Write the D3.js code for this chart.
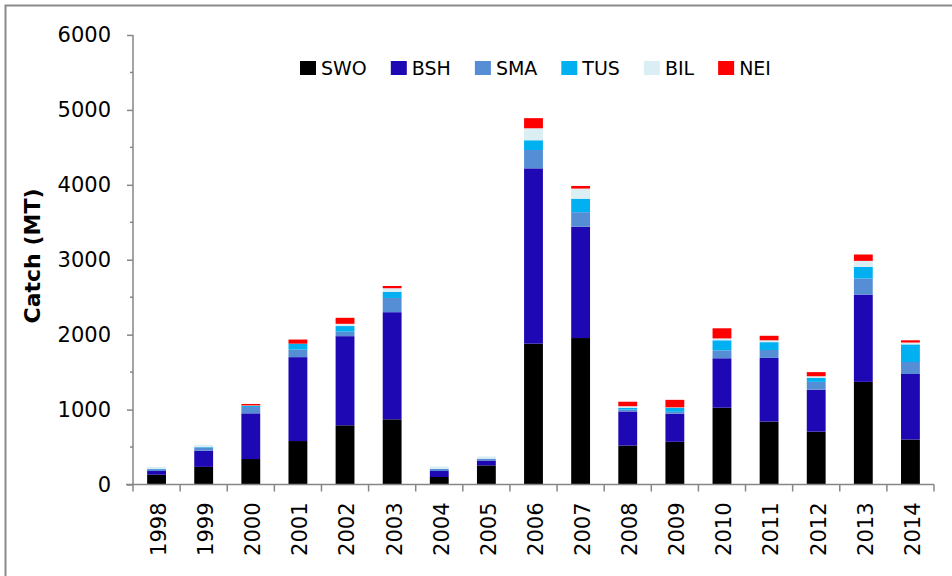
<!DOCTYPE html>
<html>
<head>
<meta charset="utf-8">
<script src="https://cdn.jsdelivr.net/npm/d3@7"></script>
<style>
  body { margin: 0; background: #fff; }
  text { font-family: "DejaVu Sans", sans-serif; fill: #000; }
</style>
</head>
<body>
<svg id="chart" width="952" height="576"></svg>
<script>
// Categories and series (catch in MT)
var years = ["1998","1999","2000","2001","2002","2003","2004","2005","2006","2007","2008","2009","2010","2011","2012","2013","2014"];
var species = ["SWO","BSH","SMA","TUS","BIL","NEI"];
var SWO = [130, 235, 340, 580, 790, 870, 100, 255, 1880, 1955, 520, 570, 1025, 840, 705, 1370, 600];
var BSH = [50, 215, 610, 1120, 1190, 1430, 80, 65, 2340, 1485, 455, 375, 660, 850, 560, 1165, 875];
var SMA = [25, 45, 85, 100, 60, 190, 30, 25, 245, 195, 25, 25, 105, 105, 105, 215, 160];
var TUS = [5, 5, 15, 80, 75, 80, 0, 0, 130, 180, 25, 55, 135, 105, 55, 155, 235];
var BIL = [25, 30, 5, 0, 30, 50, 30, 30, 160, 135, 20, 5, 25, 25, 20, 80, 25];
var NEI = [0, 0, 20, 55, 80, 30, 0, 0, 135, 35, 60, 100, 135, 60, 55, 85, 30];
var yTicks = [0, 1000, 2000, 3000, 4000, 5000, 6000];

var colors = {SWO: "#000000", BSH: "#1e08b4", SMA: "#558ed5", TUS: "#00b0f0", BIL: "#dbeef4", NEI: "#ff0000"};
var series = {SWO: SWO, BSH: BSH, SMA: SMA, TUS: TUS, BIL: BIL, NEI: NEI};

var svg = d3.select("#chart");
var axisColor = "#868686";

// outer frame (only top and left edges show in the picture)
svg.append("rect")
  .attr("x", 5.5).attr("y", 5.5)
  .attr("width", 960).attr("height", 600)
  .attr("fill", "none")
  .attr("stroke", "#8a8a8a")
  .attr("stroke-width", 2);

var plotLeft = 133, plotRight = 934, plotTop = 35, plotBottom = 484.5;

var x = d3.scaleBand().domain(years).range([plotLeft, plotRight]).paddingInner(0.6).paddingOuter(0.3);
var y = d3.scaleLinear().domain([0, 6000]).range([plotBottom, plotTop]);

// stacked data
var rows = years.map(function(yr, i) {
  var r = {year: yr};
  species.forEach(function(s) { r[s] = series[s][i]; });
  return r;
});
var stacked = d3.stack().keys(species)(rows);

svg.append("g")
  .selectAll("g")
  .data(stacked)
  .enter().append("g")
    .attr("fill", function(d) { return colors[d.key]; })
  .selectAll("rect")
  .data(function(d) { return d; })
  .enter().append("rect")
    .attr("x", function(d) { return x(d.data.year); })
    .attr("width", x.bandwidth())
    .attr("y", function(d) { return y(d[1]); })
    .attr("height", function(d) { return y(d[0]) - y(d[1]); });

// y axis
var yAxis = d3.axisLeft(y).tickValues(yTicks).tickFormat(d3.format("d")).tickSize(6).tickPadding(16);
var gy = svg.append("g").attr("transform", "translate(" + plotLeft + ",0)").call(yAxis);
gy.selectAll("text").style("font-size", "21px");
// minor ticks
gy.selectAll(".minor")
  .data(d3.range(500, 6000, 1000))
  .enter().append("line")
    .attr("x1", -3).attr("x2", 0)
    .attr("y1", function(d) { return y(d); })
    .attr("y2", function(d) { return y(d); });
gy.selectAll("line").attr("stroke", axisColor).attr("stroke-width", 1.5);
gy.select(".domain").attr("stroke", axisColor).attr("stroke-width", 1.5).attr("d", "M0," + plotTop + "V" + plotBottom);

// x axis with ticks between categories
var gx = svg.append("g").attr("transform", "translate(0," + plotBottom + ")");
gx.append("line")
  .attr("x1", plotLeft - 7).attr("x2", plotRight)
  .attr("stroke", axisColor).attr("stroke-width", 1.5);
var step = x.step();
gx.selectAll(".tick")
  .data(d3.range(years.length + 1))
  .enter().append("line")
    .attr("x1", function(i) { return plotLeft + i * step; })
    .attr("x2", function(i) { return plotLeft + i * step; })
    .attr("y1", 0).attr("y2", 7)
    .attr("stroke", axisColor).attr("stroke-width", 1.5);
gx.selectAll(".lab")
  .data(years)
  .enter().append("text")
    .attr("transform", function(d) { return "translate(" + (x(d) + x.bandwidth() / 2 + 2) + ",18) rotate(-90)"; })
    .attr("text-anchor", "end")
    .attr("dy", "0.35em")
    .style("font-size", "21px")
    .text(function(d) { return d; });

// y title
svg.append("text")
  .attr("transform", "translate(40,256) rotate(-90)")
  .attr("text-anchor", "middle")
  .style("font-size", "22px")
  .style("font-weight", "bold")
  .text("Catch (MT)");

// legend
var lg = svg.append("g").attr("transform", "translate(300,68)");
var lx = 0;
species.forEach(function(s) {
  var item = lg.append("g").attr("transform", "translate(" + lx + ",0)");
  item.append("rect").attr("x", 0).attr("y", -7).attr("width", 16).attr("height", 14).attr("fill", colors[s]);
  var t = item.append("text").attr("x", 21).attr("dy", "0.36em").style("font-size", "19px").text(s);
  lx += 21 + t.node().getComputedTextLength() + 24;
});
</script>
</body>
</html>
